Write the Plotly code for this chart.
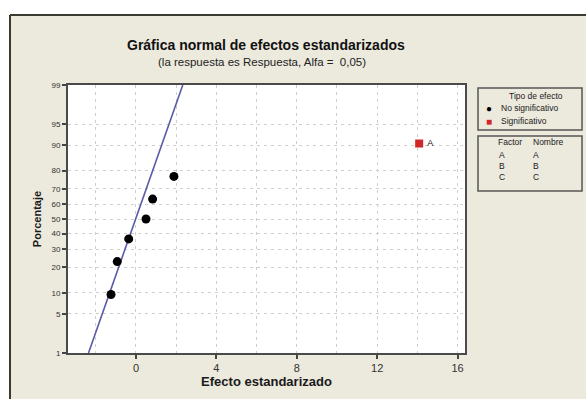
import math
import plotly.graph_objects as go

# ---- data -------------------------------------------------------------
# standardized effects that are not significant, with their normal-plot percentages
ns_effects = [-1.24, -0.93, -0.36, 0.50, 0.83, 1.89]
ns_percent = [9.5, 23.0, 36.5, 50.0, 63.5, 77.0]

# significant effect(s)
sig_effects = [14.09]
sig_percent = [90.5]
sig_labels = ["A"]

# reference normal line (effect value at the 1% and 99% points)
fit_percent = [1, 99]
fit_effects = [-2.36, 2.33]

# axis ticks
y_ticks = [1, 5, 10, 20, 30, 40, 50, 60, 70, 80, 90, 95, 99]
x_ticks = [0, 4, 8, 12, 16]

# factor table
factor_codes = ["A", "B", "C"]
factor_names = ["A", "B", "C"]

# ---- helpers ----------------------------------------------------------
def norm_ppf(p):
    """Inverse standard normal CDF by bisection (p in (0, 1))."""
    lo, hi = -10.0, 10.0
    for _ in range(80):
        mid = 0.5 * (lo + hi)
        if 0.5 * (1.0 + math.erf(mid / math.sqrt(2.0))) < p:
            lo = mid
        else:
            hi = mid
    return 0.5 * (lo + hi)


def zs(percents):
    return [norm_ppf(p / 100.0) for p in percents]


W, H = 586, 399
ML, MR, MT, MB = 68, 121, 85, 46
PW, PH = W - ML - MR, H - MT - MB


def px(xp):
    return (xp - ML) / PW


def py(yp):
    return (H - MB - yp) / PH


BG = "#ECE9DD"
FONT = "Liberation Sans"
TXT = "#1A1A1A"

fig = go.Figure()

fig.add_trace(go.Scatter(
    x=fit_effects, y=zs(fit_percent), mode="lines",
    line=dict(color="#5A5AA8", width=1.6), showlegend=False, hoverinfo="skip"))

fig.add_trace(go.Scatter(
    x=ns_effects, y=zs(ns_percent), mode="markers",
    marker=dict(symbol="circle", size=9, color="black"),
    name="No significativo", showlegend=False))

fig.add_trace(go.Scatter(
    x=sig_effects, y=zs(sig_percent), mode="markers+text",
    marker=dict(symbol="square", size=8, color="#D02828"),
    text=[" " + s for s in sig_labels], textposition="middle right",
    textfont=dict(family=FONT, size=9, color="#111"),
    name="Significativo", showlegend=False))

grid_style = dict(gridcolor="#CFCFCF", griddash="3px,4px", gridwidth=1)

fig.update_xaxes(
    range=[-3.38, 16.37], tickvals=x_ticks, ticktext=[str(v) for v in x_ticks],
    showgrid=True, **grid_style,
    minor=dict(dtick=2, tick0=0, showgrid=True, **grid_style, ticks=""),
    ticks="outside", ticklen=4, tickcolor="#444", tickwidth=1.5,
    showline=True, mirror=True, linecolor="#4A4A4A", linewidth=2,
    zeroline=False,
    tickfont=dict(family=FONT, size=11, color="#333"),
    title=dict(text="<b>Efecto estandarizado</b>", standoff=4,
               font=dict(family=FONT, size=13, color=TXT)),
)

fig.update_yaxes(
    range=[norm_ppf(0.01), norm_ppf(0.99)],
    tickvals=zs(y_ticks), ticktext=[str(v) for v in y_ticks],
    showgrid=True, **grid_style,
    ticks="outside", ticklen=4, tickcolor="#444", tickwidth=1.5,
    showline=True, mirror=True, linecolor="#4A4A4A", linewidth=2,
    zeroline=False,
    tickfont=dict(family=FONT, size=8, color="#333"),
    title=dict(text="<b>Porcentaje</b>", standoff=8,
               font=dict(family=FONT, size=11, color=TXT)),
)

shapes = [
    # white strips outside the window frame
    dict(type="rect", xref="paper", yref="paper", x0=px(0), x1=px(W), y0=py(15), y1=py(0),
         fillcolor="white", line=dict(width=0), layer="below"),
    dict(type="rect", xref="paper", yref="paper", x0=px(0), x1=px(10), y0=py(H), y1=py(15),
         fillcolor="white", line=dict(width=0), layer="below"),
    # frame edges
    dict(type="line", xref="paper", yref="paper", x0=px(10), x1=px(W), y0=py(15), y1=py(15),
         line=dict(color="#3A3A30", width=2)),
    dict(type="line", xref="paper", yref="paper", x0=px(10), x1=px(10), y0=py(15), y1=py(H),
         line=dict(color="#3A3A30", width=2)),
    # legend boxes
    dict(type="rect", xref="paper", yref="paper", x0=px(478), x1=px(582), y0=py(130), y1=py(88),
         line=dict(color="#555", width=1.5)),
    dict(type="rect", xref="paper", yref="paper", x0=px(478), x1=px(582), y0=py(191), y1=py(136),
         line=dict(color="#555", width=1.5)),
]

ann = []


def label(text, xp, yp, anchor="left", size=8.5, color=TXT):
    ann.append(dict(text=text, xref="paper", yref="paper", x=px(xp), y=py(yp),
                    xanchor=anchor, yanchor="middle", showarrow=False,
                    font=dict(family=FONT, size=size, color=color)))


# titles
label("<b>Gráfica normal de efectos estandarizados</b>", 266, 45, "center", 14, "#111")
label("(la respuesta es Respuesta, Alfa =  0,05)", 262, 62, "center", 11.5, "#222")

# legend: effect type
label("Tipo de efecto", 536, 96, "center")
label("●", 489, 108, "center", 10, "black")
label("No significativo", 499, 108)
label("■", 489, 121, "center", 10, "#D02828")
label("Significativo", 499, 121)

# legend: factor table
label("Factor", 496, 142)
label("Nombre", 531, 142)
for i, (c, n) in enumerate(zip(factor_codes, factor_names)):
    yy = 155 + 11 * i
    label(c, 497, yy)
    label(n, 531, yy)

fig.update_layout(
    width=W, height=H,
    margin=dict(l=ML, r=MR, t=MT, b=MB, pad=0),
    paper_bgcolor=BG, plot_bgcolor="white",
    shapes=shapes, annotations=ann, showlegend=False,
    font=dict(family=FONT, color=TXT),
)

fig.write_html("out.html")
